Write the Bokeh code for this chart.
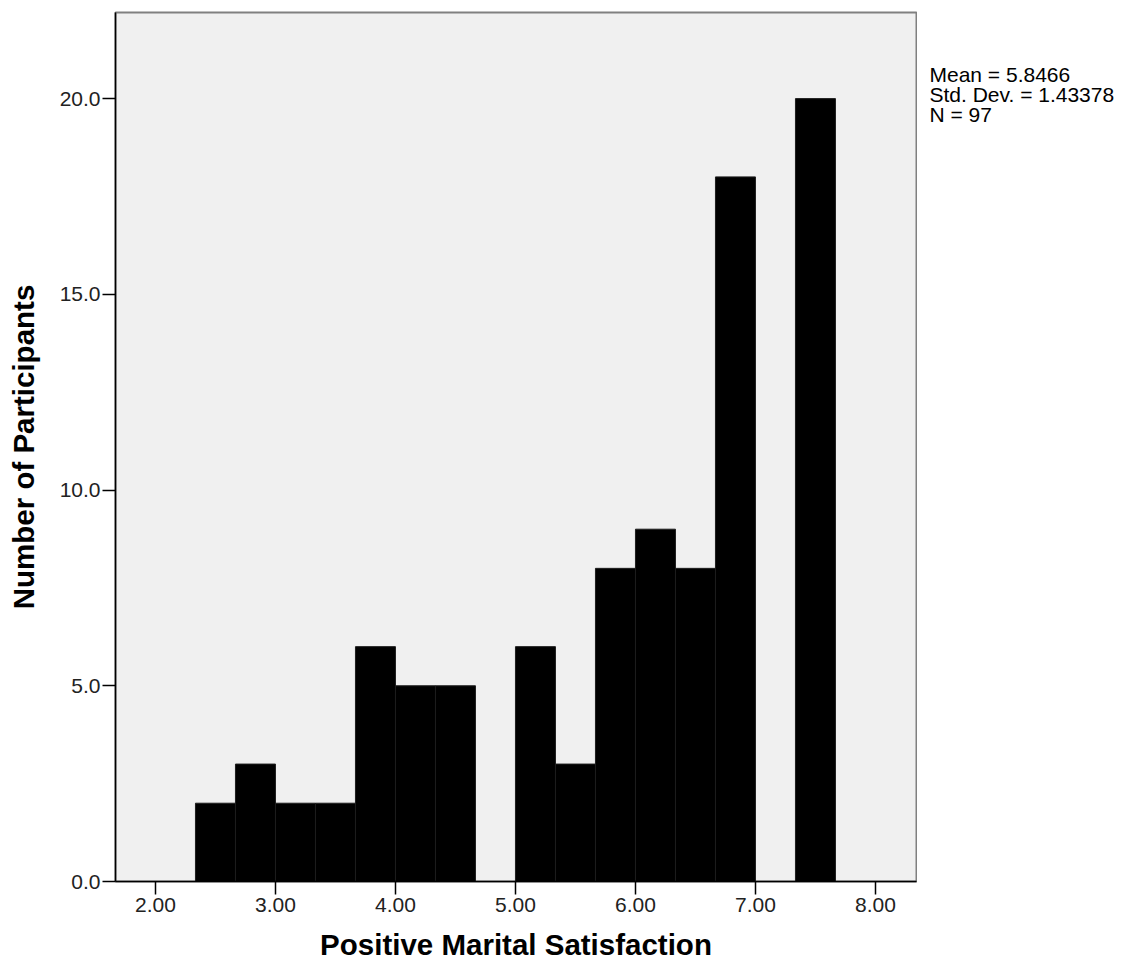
from bokeh.plotting import figure
from bokeh.models import Range1d, FixedTicker, NumeralTickFormatter, Label
from bokeh.layouts import row
from bokeh.embed import file_html
from bokeh.resources import INLINE

# Histogram of positive marital satisfaction (bin width 1/3)
bin_left = [7/3, 8/3, 3.0, 10/3, 11/3, 4.0, 13/3, 14/3, 5.0, 16/3, 17/3, 6.0, 19/3, 20/3, 7.0, 22/3]
counts = [2, 3, 2, 2, 6, 5, 5, 0, 6, 3, 8, 9, 8, 18, 0, 20]
bin_width = 1/3
x_ticks = [2, 3, 4, 5, 6, 7, 8]
y_ticks = [0, 5, 10, 15, 20]
stats_lines = ["Mean = 5.8466", "Std. Dev. = 1.43378", "N = 97"]

FONT = "Liberation Sans"

p = figure(width=917, height=973, output_backend="svg", toolbar_location=None,
           x_range=Range1d(1.667, 8.342), y_range=Range1d(0, 22.2),
           min_border_left=115, min_border_right=1, min_border_top=12, min_border_bottom=92)
p.background_fill_color = "#f0f0f0"
p.border_fill_color = "white"
p.outline_line_color = "#808080"
p.outline_line_width = 2
p.grid.visible = False

lefts = [b for b, c in zip(bin_left, counts) if c > 0]
rights = [b + bin_width for b, c in zip(bin_left, counts) if c > 0]
tops = [c for c in counts if c > 0]
p.quad(left=lefts, right=rights, bottom=0, top=tops,
       fill_color="black", line_color="#1e1e1e", line_width=1)

for ax in (p.xaxis[0], p.yaxis[0]):
    ax.axis_line_color = "black"
    ax.axis_line_width = 1.5
    ax.major_tick_line_color = "black"
    ax.major_tick_line_width = 1.5
    ax.major_tick_out = 13
    ax.major_tick_in = 0
    ax.minor_tick_line_color = None
    ax.major_label_text_font = FONT
    ax.major_label_text_font_size = "21px"
    ax.major_label_text_color = "#222222"
    ax.axis_label_text_font = FONT
    ax.axis_label_text_font_style = "bold"
    ax.axis_label_text_font_size = "29.5px"
    ax.axis_label_text_color = "black"

p.xaxis.ticker = FixedTicker(ticks=x_ticks)
p.yaxis.ticker = FixedTicker(ticks=y_ticks)
p.xaxis.formatter = NumeralTickFormatter(format="0.00")
p.yaxis.formatter = NumeralTickFormatter(format="0.0")
p.xaxis.axis_label = "Positive Marital Satisfaction"
p.yaxis.axis_label = "Number of Participants"
p.xaxis.major_label_standoff = 3
p.xaxis.axis_label_standoff = 13
p.yaxis.major_label_standoff = 2
p.yaxis.axis_label_standoff = 17

# Summary statistics panel to the right of the histogram (pixel-like coordinates, y down)
side = figure(width=208, height=973, output_backend="svg", toolbar_location=None,
              x_range=Range1d(0, 208), y_range=Range1d(973, 0),
              x_axis_location=None, y_axis_location=None, title=None,
              min_border=0, outline_line_color=None)
side.grid.visible = False
side.background_fill_color = "white"
side.border_fill_color = "white"
for i, line in enumerate(stats_lines):
    side.add_layout(Label(x=12, y=69 + i * 22.5, text=line, text_font=FONT,
                          text_font_size="21px", text_color="black",
                          text_baseline="alphabetic"))

open("out.html", "w").write(file_html(row(p, side), INLINE))
